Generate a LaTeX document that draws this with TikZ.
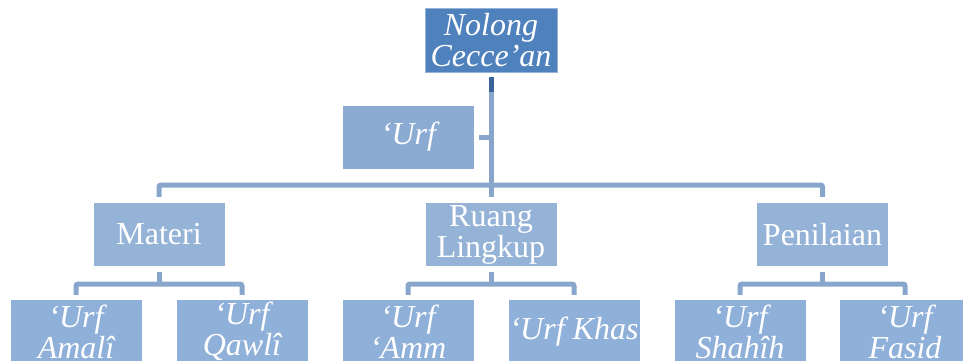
\documentclass[tikz,border=0pt]{standalone}
\usepackage{fontspec}
\setmainfont{Liberation Serif}
\definecolor{topfill}{HTML}{4F81BD}
\definecolor{midfill}{HTML}{95B3D7}
\definecolor{lowfill}{HTML}{8FB0D8}
\definecolor{urffill}{HTML}{8CABD3}
\definecolor{connc}{HTML}{88A6CC}
\definecolor{conndark}{HTML}{3A6499}
\tikzset{
  boxbase/.style={minimum width=131pt, minimum height=63pt, inner sep=0pt,
    text=white, align=center, font=\fontsize{32}{31}\selectfont},
  topbox/.style={boxbase, fill=topfill, draw=topfill!60!white, line width=0.8pt, minimum width=132pt, minimum height=64pt},
  midbox/.style={boxbase, fill=midfill},
  lowbox/.style={boxbase, fill=lowfill},
  urfbox/.style={boxbase, fill=urffill},
  conn/.style={draw=connc, line width=5pt, rounded corners=2pt},
}
\begin{document}
\begin{tikzpicture}[x=1pt,y=-1pt]
\useasboundingbox (0,0) rectangle (963,360);
\clip (0,0) rectangle (963,360);
% nodes
\node[topbox] (root) at (491,40) {\itshape Nolong\\\itshape Cecce’an};
\node[urfbox] (urf) at (408.5,137) {\itshape ‘Urf};
\node[midbox] (materi) at (159,234.5) {Materi};
\node[midbox] (ruang) at (491,234.5) {Ruang\\Lingkup};
\node[midbox] (pen) at (822.5,234.5) {Penilaian};
\node[lowbox] (amali) at (76,331.5) {\itshape ‘Urf\\\itshape Amalî};
\node[lowbox] (qawli) at (242,331.5) {\itshape ‘Urf\\\itshape Qawlî};
\node[lowbox] (amm) at (408,331.5) {\itshape ‘Urf\\\itshape ‘Amm};
\node[lowbox] (khas) at (574,331.5) {\itshape ‘Urf Khas};
\node[lowbox] (shahih) at (740,331.5) {\itshape ‘Urf\\\itshape Shahîh};
\node[lowbox] (fasid) at (905,331.5) {\itshape ‘Urf\\\itshape Fasid};
% hubs
\coordinate (hub) at (491,185);
\coordinate (hubA) at (159,284);
\coordinate (hubB) at (491,284);
\coordinate (hubC) at (822.5,284);
% connectors
\draw[conn, shorten <=5pt, shorten >=6pt] (root.south) -- (ruang.north);
\draw[draw=conndark, line width=5pt, shorten <=5pt] (root.south) -- ++(0,20);
\draw[conn, shorten <=5pt] (urf.east) -- (urf.east -| root.south);
\draw[conn, shorten <=6pt, shorten >=6pt] (materi.north) -- (materi.north |- hub) -- (pen.north |- hub) -- (pen.north);
% lower groups
\draw[conn, shorten <=6pt] (materi.south) -- (hubA);
\draw[conn, shorten <=5pt, shorten >=5pt] (amali.north) -- (amali.north |- hubA) -- (qawli.north |- hubA) -- (qawli.north);
\draw[conn, shorten <=6pt] (ruang.south) -- (hubB);
\draw[conn, shorten <=5pt, shorten >=5pt] (amm.north) -- (amm.north |- hubB) -- (khas.north |- hubB) -- (khas.north);
\draw[conn, shorten <=6pt] (pen.south) -- (hubC);
\draw[conn, shorten <=5pt, shorten >=5pt] (shahih.north) -- (shahih.north |- hubC) -- (fasid.north |- hubC) -- (fasid.north);
\end{tikzpicture}
\end{document}
